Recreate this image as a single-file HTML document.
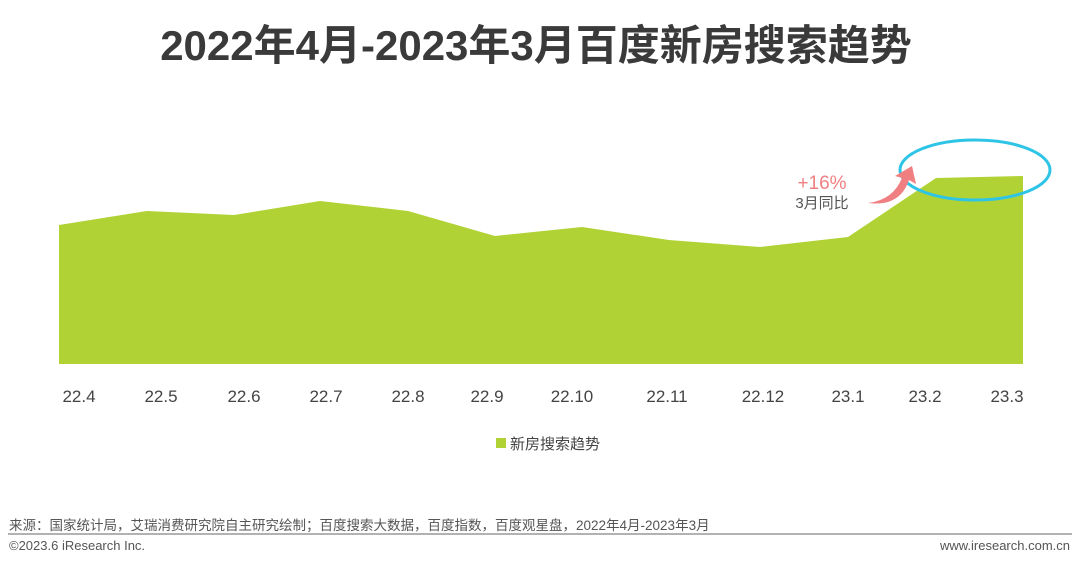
<!DOCTYPE html>
<html><head><meta charset="utf-8"><style>
body{margin:0;width:1080px;height:568px;background:#fff;font-family:"Liberation Sans","Noto Sans CJK SC",sans-serif;position:relative;overflow:hidden}
.t{position:absolute;white-space:nowrap}
</style></head><body>
<div class="t" style="left:0;width:1072px;text-align:center;top:12px;font-size:42px;font-weight:bold;color:#3a3a3a">2022年4月-2023年3月百度新房搜索趋势</div>
<svg width="1080" height="568" style="position:absolute;left:0;top:0">
<polygon fill="#b0d235" points="59,225 147,211 234,215 320,201 408,211 495,236 582,227 669,240 760,247 848,237 936,178 1023,176 1023,364 59,364"/>
<ellipse cx="975" cy="170" rx="75" ry="30" fill="none" stroke="#2ec4e6" stroke-width="3"/>
<path d="M868,203 Q893,200 902,178 L895,176 L912,166 L916,184 L909,180 Q900,207 868,203 Z" fill="#f07f82"/>
<g font-size="17" fill="#444" text-anchor="middle">
<text x="79" y="402">22.4</text><text x="161" y="402">22.5</text><text x="244" y="402">22.6</text><text x="326" y="402">22.7</text><text x="408" y="402">22.8</text><text x="487" y="402">22.9</text><text x="572" y="402">22.10</text><text x="667" y="402">22.11</text><text x="763" y="402">22.12</text><text x="848" y="402">23.1</text><text x="925" y="402">23.2</text><text x="1007" y="402">23.3</text>
</g>
<text x="822" y="189" font-size="19" fill="#f07f82" text-anchor="middle">+16%</text>
<text x="822" y="208" font-size="15" fill="#555" text-anchor="middle">3月同比</text>
<rect x="496" y="438" width="10" height="10" fill="#b0d235"/>
<text x="510" y="449" font-size="15" fill="#444">新房搜索趋势</text>
<line x1="8" y1="534" x2="1072" y2="534" stroke="#999" stroke-width="1.5"/>
</svg>
<div class="t" style="left:9px;top:514px;font-size:13.5px;color:#555">来源：国家统计局，艾瑞消费研究院自主研究绘制；百度搜索大数据，百度指数，百度观星盘，2022年4月-2023年3月</div>
<div class="t" style="left:9px;top:538px;font-size:13px;color:#555">©2023.6 iResearch Inc.</div>
<div class="t" style="right:10px;top:538px;font-size:13px;color:#555">www.iresearch.com.cn</div>
</body></html>
